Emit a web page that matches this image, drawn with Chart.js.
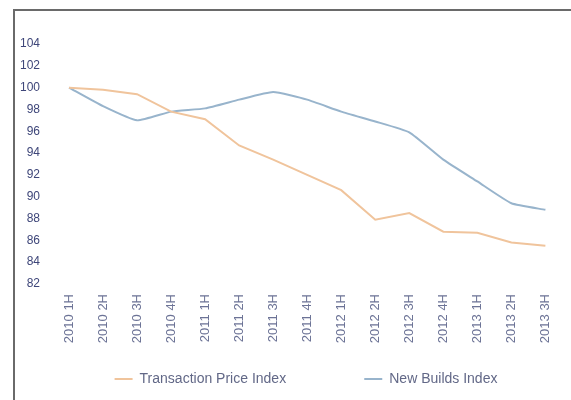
<!DOCTYPE html>
<html>
<head>
<meta charset="utf-8">
<script src="https://cdn.jsdelivr.net/npm/chart.js@4/dist/chart.umd.min.js"></script>
<style>
  body { margin: 0; background: #fff; }
  #frame {
    position: absolute; left: 13px; top: 9px;
    width: 558px; height: 391px;
    border-top: 2px solid #6a6a6a;
    border-left: 2px solid #6a6a6a;
  }
  canvas { display: block; }
</style>
</head>
<body>
<div id="frame"><canvas id="myChart" width="556" height="389"></canvas></div>
<script>
var quarters = ["2010 1H", "2010 2H", "2010 3H", "2010 4H",
                "2011 1H", "2011 2H", "2011 3H", "2011 4H",
                "2012 1H", "2012 2H", "2012 3H", "2012 4H",
                "2013 1H", "2013 2H", "2013 3H"];
var transactionPrice = [100, 99.8, 99.4, 97.8, 97.1, 94.7, 93.4, 92.0, 90.6, 87.9, 88.5, 86.8, 86.7, 85.8, 85.5];
var newBuilds = [100, 98.3, 97.0, 97.8, 98.1, 98.9, 99.6, 98.9, 97.8, 96.9, 95.9, 93.4, 91.4, 89.4, 88.8];
var yTicks = { min: 82, max: 104, step: 2 };

Chart.defaults.font.family = "'Liberation Sans', Arial, sans-serif";

// wide gap between the two legend entries without extra vertical padding
function spacedLabels(chart) {
  var items = Chart.defaults.plugins.legend.labels.generateLabels(chart);
  items.forEach(function (item, i) {
    if (i < items.length - 1) item.text += "\u00a0".repeat(17);
  });
  return items;
}

// nudge the legend a little right of centre
var legendShift = {
  id: "legendShift",
  afterLayout: function (chart) {
    chart.legend.left += 22;
    chart.legend.right += 22;
  }
};

var chart = new Chart("myChart", {
  type: "line",
  data: {
    labels: quarters,
    datasets: [{
      label: "Transaction Price Index",
      data: transactionPrice,
      borderColor: "#f0c49c",
      backgroundColor: "#f0c49c",
      borderWidth: 2,
      pointRadius: 0,
      tension: 0,
      fill: false
    }, {
      label: "New Builds Index",
      data: newBuilds,
      borderColor: "#98b4cc",
      backgroundColor: "#98b4cc",
      borderWidth: 2,
      pointRadius: 0,
      tension: 0.15,
      fill: false
    }]
  },
  plugins: [legendShift],
  options: {
    responsive: false,
    animation: false,
    devicePixelRatio: 1,
    layout: { padding: { top: 33, right: 18, left: 0, bottom: 4 } },
    plugins: {
      tooltip: { enabled: false },
      legend: {
        position: "bottom",
        labels: {
          usePointStyle: true,
          pointStyle: "line",
          pointStyleWidth: 18,
          padding: 12,
          color: "#626887",
          font: { size: 14 },
          generateLabels: spacedLabels
        }
      }
    },
    scales: {
      x: {
        offset: false,
        grid: { display: false, drawTicks: false },
        border: { display: false },
        ticks: {
          minRotation: 90,
          maxRotation: 90,
          padding: 10,
          color: "#6c7396",
          font: { size: 13 }
        },
        afterFit: function (s) { s.height = 76; }
      },
      y: {
        min: yTicks.min,
        max: yTicks.max,
        // hidden tick marks keep the labels away from the plot
        // (tick padding would also pad the top of the axis)
        grid: { display: false, drawTicks: true, tickLength: 26 },
        border: { display: false },
        ticks: {
          stepSize: yTicks.step,
          padding: 3,
          color: "#3e4679",
          font: { size: 12 }
        },
        afterFit: function (s) { s.width = 54; }
      }
    }
  }
});
</script>
</body>
</html>
